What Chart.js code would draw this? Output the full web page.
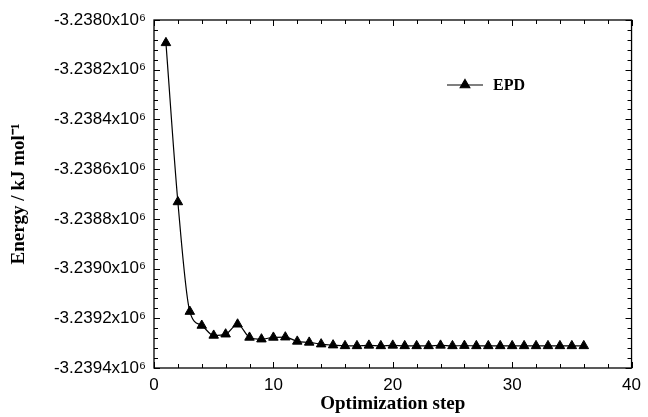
<!DOCTYPE html>
<html>
<head>
<meta charset="utf-8">
<script src="https://cdn.jsdelivr.net/npm/chart.js@4/dist/chart.umd.min.js"></script>
<style>
  body { margin: 0; background: #fff; }
</style>
</head>
<body>
<canvas id="chartEnergy" width="648" height="417"></canvas>
<script>
'use strict';

// data
const steps = [1, 2, 3, 4, 5, 6, 7, 8, 9, 10, 11, 12, 13, 14, 15, 16, 17, 18,
  19, 20, 21, 22, 23, 24, 25, 26, 27, 28, 29, 30, 31, 32, 33, 34, 35, 36];
const energyEPD = [-3238092, -3238732, -3239173, -3239229, -3239269, -3239264,
  -3239224, -3239277, -3239284, -3239277, -3239276, -3239293, -3239297, -3239304,
  -3239308, -3239311, -3239311, -3239309, -3239311, -3239309, -3239311, -3239311,
  -3239311, -3239309, -3239311, -3239310, -3239311, -3239311, -3239311, -3239311,
  -3239311, -3239311, -3239311, -3239311, -3239311, -3239311];
const seriesName = 'EPD';
const xTicks = [0, 10, 20, 30, 40];
const yTicks = [-3239400, -3239200, -3239000, -3238800, -3238600, -3238400, -3238200, -3238000];

const sansFont = "'Liberation Sans', Arial, sans-serif";
const serifFont = "'Liberation Serif', 'Times New Roman', serif";

function fmtE6(v) {
  return (v / 1e6).toFixed(4) + 'x10\u2076';
}

// box + inward ticks on all four sides
const frameTicks = {
  id: 'frameTicks',
  afterDatasetsDraw(chart) {
    const ctx = chart.ctx;
    const a = chart.chartArea;
    const xs = chart.scales.x;
    const ys = chart.scales.y;
    ctx.save();
    ctx.strokeStyle = '#000';
    ctx.lineWidth = 1.3;
    ctx.strokeRect(a.left, a.top, a.right - a.left, a.bottom - a.top);
    ctx.lineWidth = 1;
    ctx.beginPath();
    for (let v = xs.min; v <= xs.max + 1e-9; v += 2) {
      const px = Math.round(xs.getPixelForValue(v)) + 0.5;
      const len = (v % 10 === 0) ? 6 : 4;
      ctx.moveTo(px, a.bottom); ctx.lineTo(px, a.bottom - len);
      ctx.moveTo(px, a.top); ctx.lineTo(px, a.top + len);
    }
    for (let v = ys.min; v <= ys.max + 1e-6; v += 40) {
      const py = Math.round(ys.getPixelForValue(v)) + 0.5;
      const len = ((v - ys.min) % 200 === 0) ? 6 : 4;
      ctx.moveTo(a.left, py); ctx.lineTo(a.left + len, py);
      ctx.moveTo(a.right, py); ctx.lineTo(a.right - len, py);
    }
    ctx.stroke();
    ctx.restore();
  }
};

// legend inside the plot
const insideLegend = {
  id: 'insideLegend',
  afterDatasetsDraw(chart) {
    const ctx = chart.ctx;
    const a = chart.chartArea;
    const x0 = a.left + 293, y0 = a.top + 65;
    ctx.save();
    ctx.strokeStyle = '#000';
    ctx.lineWidth = 1.2;
    ctx.beginPath();
    ctx.moveTo(x0, y0); ctx.lineTo(x0 + 36, y0);
    ctx.stroke();
    Chart.helpers.drawPoint(ctx, { pointStyle: 'triangle', radius: 5.5, borderWidth: 1 }, x0 + 18, y0);
    ctx.fillStyle = '#000';
    ctx.font = 'bold 16px ' + serifFont;
    ctx.textBaseline = 'middle';
    ctx.fillText(seriesName, x0 + 46, y0 + 1);
    ctx.restore();
  }
};

const config = {
  type: 'line',
  data: {
    datasets: [{
      label: seriesName,
      data: steps.map((s, i) => ({ x: s, y: energyEPD[i] })),
      borderColor: '#000',
      backgroundColor: '#000',
      borderWidth: 1.2,
      cubicInterpolationMode: 'monotone',
      pointStyle: 'triangle',
      pointRadius: 5.5,
      pointBorderWidth: 1,
      pointBackgroundColor: '#000',
      pointBorderColor: '#000'
    }]
  },
  options: {
    responsive: false,
    animation: false,
    layout: { padding: { left: 0, right: 11, top: 20, bottom: 0 } },
    plugins: {
      legend: { display: false },
      tooltip: { enabled: false }
    },
    scales: {
      x: {
        type: 'linear',
        min: 0,
        max: 40,
        afterFit: (s) => { s.height = 49; },
        afterBuildTicks: (s) => { s.ticks = xTicks.map(v => ({ value: v })); },
        grid: { display: false, drawTicks: false },
        border: { display: false },
        ticks: {
          padding: 7,
          color: '#000',
          font: { family: sansFont, size: 17 }
        },
        title: {
          display: true,
          text: 'Optimization step',
          color: '#000',
          padding: { top: 0, bottom: 2 },
          font: { family: serifFont, size: 19, weight: 'bold' }
        }
      },
      y: {
        min: -3239400,
        max: -3238000,
        afterFit: (s) => { s.width = 154; },
        afterBuildTicks: (s) => { s.ticks = yTicks.map(v => ({ value: v })); },
        grid: { display: false, drawTicks: false },
        border: { display: false },
        ticks: {
          padding: 8,
          color: '#000',
          font: { family: sansFont, size: 17 },
          callback: (v) => fmtE6(v)
        },
        title: {
          display: true,
          text: 'Energy / kJ mol\u207B\u00B9',
          color: '#000',
          padding: { top: 8, bottom: 0 },
          font: { family: serifFont, size: 19, weight: 'bold' }
        }
      }
    }
  },
  plugins: [frameTicks, insideLegend]
};

const chartEnergy = new Chart(document.getElementById('chartEnergy'), config);
</script>
</body>
</html>
